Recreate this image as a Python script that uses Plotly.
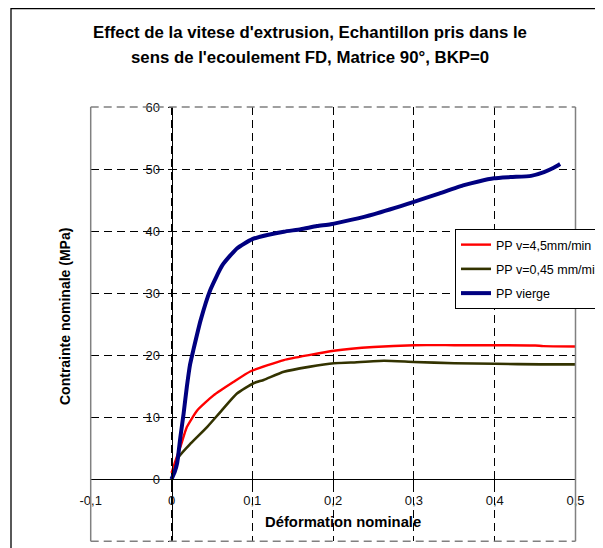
import plotly.graph_objects as go

# ---------------- data ----------------
red_x = [0, 0.005, 0.011, 0.019, 0.032, 0.052, 0.077, 0.098, 0.139, 0.17, 0.201, 0.25, 0.3, 0.35, 0.4, 0.45, 0.46, 0.5]
red_y = [1.0, 3.0, 5.2, 8.4, 11.1, 13.5, 15.7, 17.4, 19.2, 20.0, 20.7, 21.3, 21.6, 21.6, 21.6, 21.55, 21.45, 21.4]

olive_x = [0, 0.004, 0.009, 0.024, 0.044, 0.061, 0.081, 0.102, 0.114, 0.139, 0.17, 0.201, 0.222, 0.263, 0.3, 0.35, 0.4, 0.457, 0.5]
olive_y = [0, 1.5, 3.6, 5.8, 8.4, 10.9, 13.8, 15.5, 16.0, 17.3, 18.1, 18.7, 18.8, 19.1, 18.9, 18.7, 18.6, 18.5, 18.5]

blue_x = [0, 0.004, 0.007, 0.011, 0.015, 0.019, 0.023, 0.027, 0.036, 0.048, 0.063, 0.081, 0.1, 0.12, 0.139,
          0.16, 0.18, 0.197, 0.222, 0.25, 0.3, 0.33, 0.362, 0.38, 0.399, 0.42, 0.445, 0.461, 0.473, 0.481]
blue_y = [0, 1.2, 2.6, 6.8, 10.6, 14.9, 18.5, 20.8, 25.6, 30.5, 34.5, 37.2, 38.7, 39.4, 39.9,
          40.3, 40.8, 41.1, 41.8, 42.7, 44.7, 46.0, 47.4, 48.0, 48.5, 48.7, 48.9, 49.5, 50.2, 50.8]

series_names = ["PP v=4,5mm/min", "PP v=0,45 mm/min", "PP vierge"]

x_tickvals = [-0.1, 0, 0.1, 0.2, 0.3, 0.4, 0.5]
x_ticktext = ["-0,1", "0", "0,1", "0,2", "0,3", "0,4", "0,5"]
y_tickvals = [-10, 0, 10, 20, 30, 40, 50, 60]
y_ticktext = ["-10", "0", "10", "20", "30", "40", "50", "60"]

title_l1 = "Effect de la vitese d'extrusion, Echantillon pris dans le"
title_l2 = "sens de l'ecoulement FD, Matrice 90°, BKP=0"
x_title = "Déformation nominale"
y_title = "Contrainte nominale (MPa)"

# ---------------- layout geometry ----------------
# the page body has an 8px default margin: the figure is sized so it ends at the window edge
OFF = 8
W, H = 603 - OFF, 548 - OFF
FONT = "Liberation Sans, Arial, sans-serif"


def fx(p):  # window pixel x -> paper fraction
    return (p - OFF) / W


def fy(p):  # window pixel y -> paper fraction
    return 1 - (p - OFF) / H


x_range = [-0.1, 0.5]
y_range = [-10, 60]
xdom = [fx(90.7), fx(575.5)]
ydom = [fy(541.2), fy(107)]
# axes cross at zero
x_pos_of_yaxis = xdom[0] + (xdom[1] - xdom[0]) * (0 - x_range[0]) / (x_range[1] - x_range[0])
y_pos_of_xaxis = ydom[0] + (ydom[1] - ydom[0]) * (0 - y_range[0]) / (y_range[1] - y_range[0])

fig = go.Figure()
fig.add_trace(go.Scatter(x=red_x, y=red_y, mode="lines", name=series_names[0],
                         line=dict(color="#FF0000", width=2.4, shape="spline", smoothing=0.5),
                         legendgroup="a"))
# the legend box of the reference runs past the window edge: pad the longest entry
fig.add_trace(go.Scatter(x=olive_x, y=olive_y, mode="lines", name=series_names[1] + "\u00a0\u00a0\u00a0",
                         line=dict(color="#333300", width=2.6, shape="spline", smoothing=0.5),
                         legendgroup="b"))
fig.add_trace(go.Scatter(x=blue_x, y=blue_y, mode="lines", name=series_names[2],
                         line=dict(color="#000080", width=4, shape="spline", smoothing=0.5),
                         legendgroup="c"))

grid_dash = "8px,5px"
fig.update_layout(
    width=W, height=H,
    margin=dict(l=0, r=0, t=0, b=0, autoexpand=False),
    paper_bgcolor="white", plot_bgcolor="white",
    font=dict(family=FONT, size=13, color="black"),
    xaxis=dict(range=x_range, domain=xdom, anchor="free", position=y_pos_of_xaxis,
               tickvals=x_tickvals, ticktext=x_ticktext,
               showgrid=True, gridcolor="black", gridwidth=1, griddash=grid_dash,
               zeroline=False, showline=True, linecolor="black", linewidth=1,
               ticks="outside", ticklen=4, tickcolor="black",
               tickfont=dict(family=FONT, size=13, color="#111"), ticklabelstandoff=5),
    yaxis=dict(range=y_range, domain=ydom, anchor="free", position=x_pos_of_yaxis,
               tickvals=y_tickvals, ticktext=y_ticktext,
               showgrid=True, gridcolor="black", gridwidth=1, griddash=grid_dash,
               zeroline=False, showline=True, linecolor="black", linewidth=1,
               ticks="outside", ticklen=4, tickcolor="black",
               tickfont=dict(family=FONT, size=13, color="#111"), ticklabelstandoff=5),
    showlegend=True,
    legend=dict(x=fx(455), y=fy(229), xanchor="left", yanchor="top",
                bgcolor="white", bordercolor="black", borderwidth=1,
                font=dict(family=FONT, size=12.5, color="black"),
                traceorder="grouped", tracegroupgap=5, itemwidth=30),
)

# frame of plot area
shapes = [
    dict(type="line", xref="paper", yref="paper", x0=xdom[0], x1=xdom[0], y0=ydom[0], y1=ydom[1],
         line=dict(color="#808080", width=1.5)),
    dict(type="line", xref="paper", yref="paper", x0=xdom[1], x1=xdom[1], y0=ydom[0], y1=ydom[1],
         line=dict(color="#808080", width=1.5)),
    dict(type="line", xref="paper", yref="paper", x0=xdom[0], x1=xdom[1], y0=ydom[1], y1=ydom[1],
         line=dict(color="#808080", width=1.5, dash=grid_dash)),
    dict(type="line", xref="paper", yref="paper", x0=xdom[0], x1=xdom[1], y0=ydom[0], y1=ydom[0],
         line=dict(color="#808080", width=1.5, dash=grid_dash)),
    # outer chart border
    dict(type="rect", xref="paper", yref="paper", x0=fx(11), x1=1.1, y0=-0.1, y1=fy(8.5),
         line=dict(color="black", width=1.3), layer="below"),
]
fig.update_layout(shapes=shapes)

fig.add_annotation(x=fx(310), y=fy(33), xref="paper", yref="paper", showarrow=False,
                   text="<b>" + title_l1 + "</b>", font=dict(family=FONT, size=16.8, color="black"),
                   xanchor="center", yanchor="middle")
fig.add_annotation(x=fx(310), y=fy(57), xref="paper", yref="paper", showarrow=False,
                   text="<b>" + title_l2 + "</b>", font=dict(family=FONT, size=16.8, color="black"),
                   xanchor="center", yanchor="middle")
fig.add_annotation(x=fx(343), y=fy(522), xref="paper", yref="paper", showarrow=False,
                   text="<b>" + x_title + "</b>", font=dict(family=FONT, size=14.8, color="black"),
                   xanchor="center", yanchor="middle")
fig.add_annotation(x=fx(65), y=fy(317), xref="paper", yref="paper", showarrow=False,
                   text="<b>" + y_title + "</b>", font=dict(family=FONT, size=14, color="black"),
                   textangle=-90, xanchor="center", yanchor="middle")

fig.write_html("out.html")
